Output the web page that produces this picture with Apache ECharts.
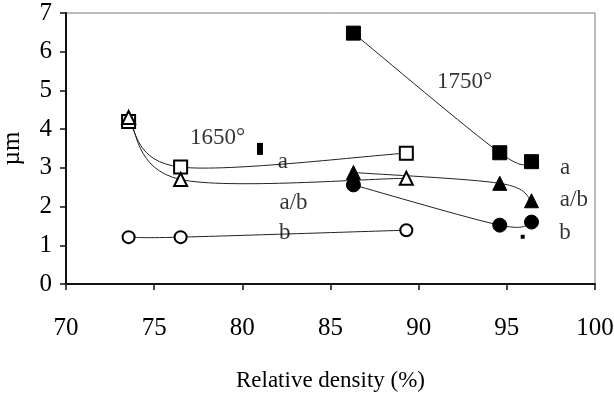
<!DOCTYPE html>
<html><head><meta charset="utf-8">
<script src="https://cdn.jsdelivr.net/npm/echarts@6/dist/echarts.min.js"></script>
<style>html,body{margin:0;padding:0;background:#fff}#c{width:614px;height:394px}</style>
</head><body><div id="c"></div>
<script>
// 1650° series (open markers)
const x1650 = [73.55, 76.5, 89.3];
const sqOpen = [4.2, 3.02, 3.38];
const triOpen = [4.3, 2.7, 2.73];
const circOpen = [1.21, 1.21, 1.39];
// 1750° series (filled markers)
const x1750 = [86.3, 94.6, 96.4];
const sqFilled = [6.48, 3.39, 3.16];
const triFilled = [2.88, 2.6, 2.15];
const circFilled = [2.56, 1.52, 1.6];
// stray marks in the figure
const strayX = [81.0, 95.9];
const strayY = [3.49, 1.22];
// annotations
const noteText = ['1650°', '1750°', 'a', 'a/b', 'b', 'a', 'a/b', 'b'];
const noteX = [78.6, 92.6, 82.3, 82.9, 82.4, 98.3, 98.8, 98.3];
const noteY = [3.77, 5.22, 3.15, 2.09, 1.32, 3.0, 2.17, 1.32];
const xTicks = [70, 75, 80, 85, 90, 95, 100];
const yTicks = [0, 1, 2, 3, 4, 5, 6, 7];

const font = 'Liberation Serif';
const zip = (xs, ys) => xs.map((x, i) => [x, ys[i]]);

// Smoothed (Catmull-Rom style, like a spreadsheet "smoothed line") curve through the data,
// positioned with the chart's own coordinate system.
function smoothCurve(name, xs, ys) {
  return {
    name: name + '_line', type: 'custom', silent: true, z: 2,
    data: [[xs[0], ys[0]]],
    renderItem: function (params, api) {
      const p = xs.map((x, i) => api.coord([x, ys[i]]));
      const n = p.length;
      const children = [];
      for (let i = 0; i < n - 1; i++) {
        const p0 = p[Math.max(i - 1, 0)], p1 = p[i], p2 = p[i + 1], p3 = p[Math.min(i + 2, n - 1)];
        children.push({
          type: 'bezierCurve',
          shape: {
            x1: p1[0], y1: p1[1], x2: p2[0], y2: p2[1],
            cpx1: p1[0] + (p2[0] - p0[0]) / 6, cpy1: p1[1] + (p2[1] - p0[1]) / 6,
            cpx2: p2[0] - (p3[0] - p1[0]) / 6, cpy2: p2[1] - (p3[1] - p1[1]) / 6
          },
          style: {stroke: '#222', lineWidth: 1, fill: null}
        });
      }
      return {type: 'group', children};
    }
  };
}

function markers(name, xs, ys, symbol, size, filled) {
  return {
    name, type: 'scatter', data: zip(xs, ys), symbol, symbolSize: size,
    itemStyle: filled ? {color: '#000', borderColor: '#000', borderWidth: 1, opacity: 1}
                      : {color: '#fff', borderColor: '#000', borderWidth: 2, opacity: 1},
    z: filled ? 3 : 4
  };
}

const chart = echarts.init(document.getElementById('c'), null, {renderer: 'canvas'});
chart.setOption({
  animation: false,
  grid: {left: 66, right: 19, top: 13, bottom: 110, show: true, borderColor: '#777', borderWidth: 1,
         containLabel: false, outerBoundsMode: 'none'},
  xAxis: {
    type: 'value', min: xTicks[0], max: xTicks[xTicks.length - 1], interval: 5,
    name: 'Relative density (%)', nameLocation: 'middle', nameGap: 85,
    nameTextStyle: {fontFamily: font, fontSize: 23, color: '#000'},
    axisLine: {lineStyle: {color: '#111', width: 2}},
    axisTick: {show: true, length: 6, lineStyle: {color: '#111', width: 1.5}},
    axisLabel: {fontFamily: font, fontSize: 25, color: '#000', margin: 32},
    splitLine: {show: false}
  },
  yAxis: {
    type: 'value', min: yTicks[0], max: yTicks[yTicks.length - 1], interval: 1,
    name: 'µm', nameLocation: 'middle', nameGap: 41, nameRotate: 90,
    nameTextStyle: {fontFamily: font, fontSize: 25, color: '#000'},
    axisLine: {show: true, lineStyle: {color: '#111', width: 2}},
    axisTick: {show: true, length: 6, lineStyle: {color: '#111', width: 1.5}},
    axisLabel: {fontFamily: font, fontSize: 25, color: '#000', margin: 14},
    splitLine: {show: false}
  },
  series: [
    smoothCurve('sq1650', x1650, sqOpen),
    smoothCurve('tri1650', x1650, triOpen),
    smoothCurve('circ1650', x1650, circOpen),
    smoothCurve('sq1750', x1750, sqFilled),
    smoothCurve('tri1750', x1750, triFilled),
    smoothCurve('circ1750', x1750, circFilled),
    markers('sq1650', x1650, sqOpen, 'rect', 13, false),
    markers('tri1650', x1650, triOpen, 'triangle', 13, false),
    markers('circ1650', x1650, circOpen, 'circle', 12, false),
    markers('sq1750', x1750, sqFilled, 'rect', 14, true),
    markers('tri1750', x1750, triFilled, 'triangle', 14, true),
    markers('circ1750', x1750, circFilled, 'circle', 14, true),
    {
      name: 'stray', type: 'scatter', data: zip(strayX, strayY),
      symbol: 'rect', symbolSize: (v, p) => p.dataIndex === 0 ? [6, 12] : [4, 4],
      itemStyle: {color: '#000', opacity: 1}
    },
    {
      name: 'notes', type: 'scatter', symbolSize: 0, silent: true,
      data: noteX.map((x, i) => ({value: [x, noteY[i]], name: noteText[i]})),
      label: {show: true, position: 'inside', formatter: p => p.name,
              fontFamily: font, fontSize: 23, color: '#000'},
      z: 10
    }
  ]
});
</script>
</body></html>
